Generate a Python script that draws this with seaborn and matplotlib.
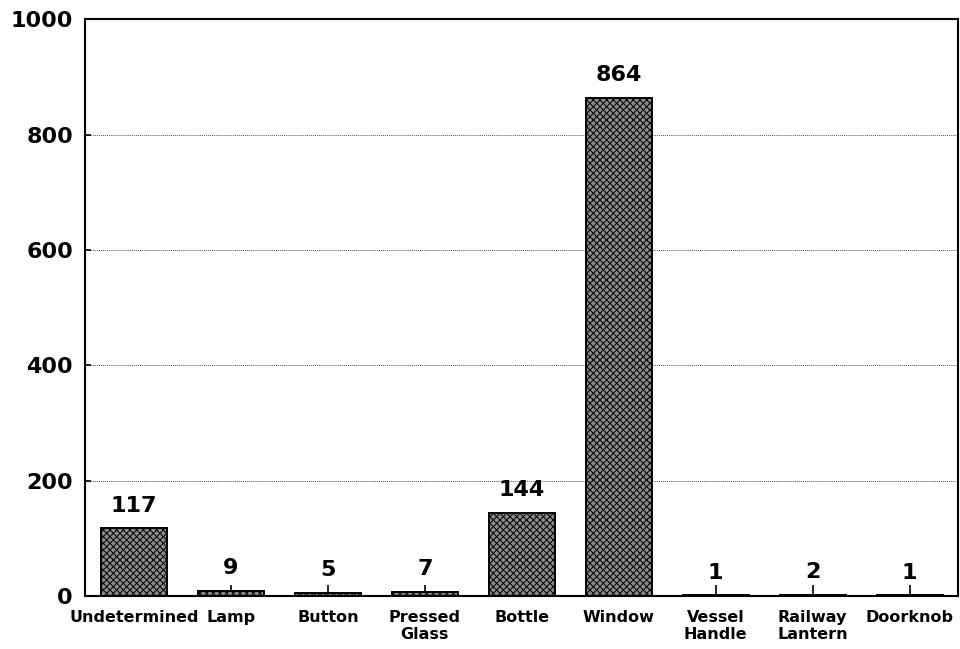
import matplotlib
matplotlib.use("Agg")
import matplotlib.pyplot as plt
import seaborn as sns
import pandas as pd

categories = ["Undetermined", "Lamp", "Button", "Pressed\nGlass", "Bottle",
              "Window", "Vessel\nHandle", "Railway\nLantern", "Doorknob"]
counts = [117, 9, 5, 7, 144, 864, 1, 2, 1]
yticks = [0, 200, 400, 600, 800, 1000]

df = pd.DataFrame({"category": categories, "count": counts})

sns.set_theme(style="white")
plt.rcParams["font.family"] = ["DejaVu Sans"]
plt.rcParams["hatch.linewidth"] = 0.7
plt.rcParams["text.color"] = "black"
plt.rcParams["xtick.color"] = "black"
plt.rcParams["ytick.color"] = "black"

fig = plt.figure(figsize=(9.6, 6.49), dpi=100)
ax = fig.add_axes([0.089, 0.082, 0.909, 0.888])

sns.barplot(data=df, x="category", y="count", ax=ax, color="#8a8a8a",
            width=0.68, edgecolor="black", linewidth=1.4, saturation=1)
for p in ax.patches:
    p.set_hatch("xxxxx")

ax.set_ylim(0, 1000)
ax.set_xlim(-0.5, len(categories) - 0.5)
ax.set_yticks(yticks)
ax.set_yticklabels([str(v) for v in yticks], fontsize=16, fontweight="bold")
ax.set_xticks(range(len(categories)))
ax.set_xticklabels(categories, fontsize=11.5, fontweight="bold", linespacing=1.2)
ax.set_xlabel("")
ax.set_ylabel("")
ax.tick_params(axis="x", direction="in", length=8, width=1.2, pad=10, bottom=True,
               labelcolor="black")
ax.tick_params(axis="y", direction="in", length=4, width=1.2, pad=9, left=True,
               labelcolor="black")

for v in yticks[1:-1]:
    ax.axhline(v, color="#555555", linestyle=(0, (1, 1)), linewidth=0.7, zorder=0)

for s in ax.spines.values():
    s.set_visible(True)
    s.set_color("black")
    s.set_linewidth(1.5)

for i, v in enumerate(counts):
    ax.annotate(str(v), (i, v), xytext=(0, 9), textcoords="offset points",
                ha="center", va="bottom", fontsize=16, fontweight="bold", color="black")

fig.savefig("out.png", dpi=100, facecolor="white")
